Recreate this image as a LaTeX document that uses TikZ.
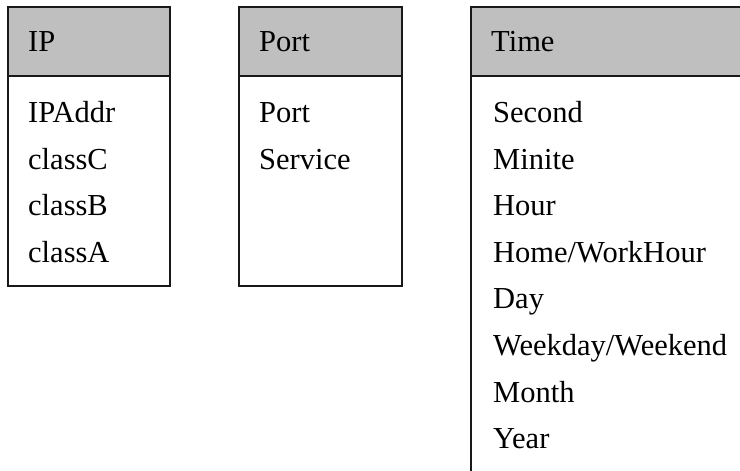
\documentclass[tikz,border=0pt]{standalone}
\usepackage{fontspec}
\setmainfont{Liberation Serif}
\begin{document}
\begin{tikzpicture}[x=1bp,y=-1bp,
  frame/.style={draw=black!90,line width=1.6bp},
  head/.style={fill=black!25},
  entry/.style={anchor=base west,inner sep=0pt,font=\fontsize{30.5bp}{32bp}\selectfont}]
\useasboundingbox (0,0) rectangle (740,471);
\clip (0,0) rectangle (740,471);
% table bodies and header bands
\foreach \l/\r/\b in {8/170/286, 239/402/286, 471/760/490}{
  \fill[head] (\l,7) rectangle (\r,76);
  \draw[frame] (\l,7) rectangle (\r,\b);
  \draw[frame] (\l,76) -- (\r,76);
}
% headers
\node[entry] (hip) at (28,52) {IP};
\node[entry] (hport) at (259,52) {Port};
\node[entry] (htime) at (491,52) {Time};
% IP entries
\foreach \t [count=\i from 0] in {IPAddr,classC,classB,classA}
  \node[entry] (ip\i) at (28,123+46.5*\i) {\t};
% Port entries
\foreach \t [count=\i from 0] in {Port,Service}
  \node[entry] (port\i) at (259,123+46.5*\i) {\t};
% Time entries
\foreach \t [count=\i from 0] in {Second,Minite,Hour,Home/WorkHour,Day,Weekday/Weekend,Month,Year}
  \node[entry] (time\i) at (493,123+46.5*\i) {\t};
\end{tikzpicture}
\end{document}
